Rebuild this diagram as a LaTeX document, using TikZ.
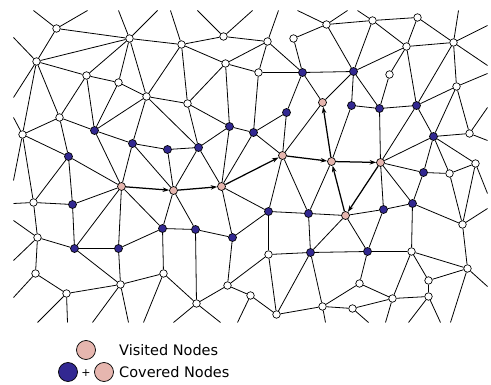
\documentclass[tikz,border=0pt]{standalone}
\usepackage{fontspec}
\setmainfont{DejaVu Sans}
\usetikzlibrary{arrows.meta}
\definecolor{nodeblue}{RGB}{50,40,145}
\definecolor{nodepink}{RGB}{230,182,175}
\pgfdeclarelayer{bg}
\pgfsetlayers{bg,main}
\begin{document}
\begin{tikzpicture}[x=1pt,y=-1pt,
  w/.style={circle,draw,fill=white,inner sep=0pt,minimum size=7.5pt,line width=0.7pt},
  b/.style={w,fill=nodeblue,minimum size=8pt},
  p/.style={w,fill=nodepink,minimum size=8pt},
  e/.style={line width=0.8pt},
  ar/.style={line width=1.25pt,-{Stealth[length=6.5pt,width=4.5pt]}},
  leg/.style={circle,draw,inner sep=0pt,minimum size=19pt,line width=0.7pt},
  legtext/.style={anchor=west,inner sep=0pt,font=\fontsize{14.5}{17}\selectfont}]
\useasboundingbox (0,0) rectangle (491,385);
\begin{scope}[shift={(0.5,0.5)}]
\foreach \n/\x/\y/\s in {
 1/56/28/w, 2/129/38/w, 3/36/61/w, 4/86/75/w, 5/118/82/w, 6/146/96/w,
 7/181/44/w, 8/223/36/w, 9/267/41/w, 10/225/63/w, 11/258/72/w, 12/187/103/w,
 13/293/38/w, 14/326/24/w, 15/372/20/w, 16/417/17/w, 17/406/46/w, 18/453/42/w,
 19/302/72/b, 20/353/71/b, 21/389/74/w, 22/456/86/w, 23/322/102/p, 24/351/105/b,
 25/379/108/b, 26/416/105/b, 27/286/112/b, 28/22/134/w, 29/59/117/w, 30/94/130/b,
 31/132/143/b, 32/167/149/b, 33/198/147/b, 34/229/126/b, 35/253/132/b, 36/282/155/p,
 37/331/161/p, 38/380/162/p, 39/433/136/b, 40/469/133/w, 41/475/163/w, 42/449/173/w,
 43/423/172/b, 44/68/156/b, 45/121/186/p, 46/173/190/p, 47/221/186/p, 48/33/202/w,
 49/72/204/b, 50/268/211/b, 51/308/213/b, 52/345/215/p, 53/383/209/b, 54/412/203/b,
 55/462/224/w, 56/37/237/w, 57/74/248/b, 58/118/248/b, 59/162/228/b, 60/195/229/b,
 61/232/237/b, 62/268/254/w, 63/310/252/b, 64/367/251/b, 65/411/251/w, 66/428/280/w,
 67/467/268/w, 68/35/273/w, 69/66/293/w, 70/120/284/w, 71/163/273/w, 72/196/303/w,
 73/227/285/w, 74/250/295/w, 75/276/314/w, 76/322/306/w, 77/359/283/w, 78/352/308/w,
 79/392/298/w, 80/428/296/w}
 \node[\s] (n\n) at (\x,\y) {};
\begin{pgfonlayer}{bg}
\foreach \a/\b in {
 1/2,1/3,2/3,2/7,2/5,2/6,2/4,3/4,3/29,3/28,4/5,4/29,4/30,5/6,5/30,6/7,6/12,6/30,6/31,6/33,
 7/8,7/10,7/12,8/9,9/10,9/11,9/19,10/11,10/12,10/34,11/19,11/35,12/34,12/33,
 13/19,13/14,14/15,14/20,15/16,15/20,15/17,16/17,16/18,17/18,17/20,17/21,17/26,
 18/22,18/26,19/20,19/23,19/27,20/23,20/24,20/25,21/25,22/26,22/39,22/40,23/36,
 24/25,24/37,25/26,25/38,26/39,26/38,27/35,27/36,28/29,28/44,28/48,29/30,29/44,
 30/31,30/45,31/32,31/45,31/46,32/33,32/46,33/34,33/46,33/47,34/35,34/47,35/36,35/47,
 36/50,36/51,
 37/51,38/39,38/43,38/53,38/54,39/40,39/43,39/42,39/41,41/42,41/55,42/43,42/55,43/54,
 44/45,44/48,44/49,45/49,45/57,45/58,45/59,46/59,46/60,47/50,47/61,48/49,48/56,49/57,
 50/51,50/61,50/62,51/52,51/63,52/53,52/64,52/63,53/54,53/64,54/55,54/65,55/67,
 56/57,56/68,57/58,57/70,58/59,58/70,59/60,59/71,60/61,60/72,61/73,62/63,62/73,62/75,
 63/64,63/75,63/76,64/65,64/77,65/66,65/67,65/79,66/67,66/80,68/69,69/70,70/71,71/72,
 72/73,73/74,74/75,75/76,76/77,76/78,77/79,78/79,79/80}
 \draw[e] (n\a) -- (n\b);
\foreach \a/\x/\y [count=\i] in {
 1/33/10, 1/87/10, 2/118/10, 2/157/10, 3/13/37, 3/13/97, 7/170/10, 8/197/10, 8/252/10,
 9/278/10, 14/297/10, 14/347/10, 15/357/10, 18/458/10, 18/487/25, 18/487/65, 22/487/73,
 40/487/107, 40/487/140, 41/487/193, 55/487/208, 67/487/286, 28/13/117, 28/13/180,
 48/13/203, 56/13/220, 56/13/260, 68/13/297, 69/67/322, 69/37/322, 70/128/322, 70/92/322,
 71/143/322, 72/173/322, 72/220/322, 74/237/322, 76/325/322, 78/368/322, 79/385/322,
 80/408/322, 80/440/322, 67/450/322}
 {\coordinate (o\i) at (\x,\y); \draw[e] (n\a) -- (o\i);}
\end{pgfonlayer}
\draw[ar] (n45) -- (n46);
\draw[ar] (n46) -- (n47);
\draw[ar] (n47) -- (n36);
\draw[ar] (n36) -- (n37);
\draw[ar] (n37) -- (n38);
\draw[ar] (n37) -- (n23);
\draw[ar] (n52) -- (n37);
\draw[ar] (n38) -- (n52);
\end{scope}
% legend
\node[leg,fill=nodepink] (lv) at (86,350) {};
\node[legtext] (tv) at (119,350) {Visited Nodes};
\node[leg,fill=nodeblue] (lb) at (68,372) {};
\node[inner sep=0pt,font=\fontsize{11}{13}\selectfont] (plus) at (86,373) {+};
\node[leg,fill=nodepink] (lc) at (104,372) {};
\node[legtext] (tc) at (119,372) {Covered Nodes};
\end{tikzpicture}
\end{document}
